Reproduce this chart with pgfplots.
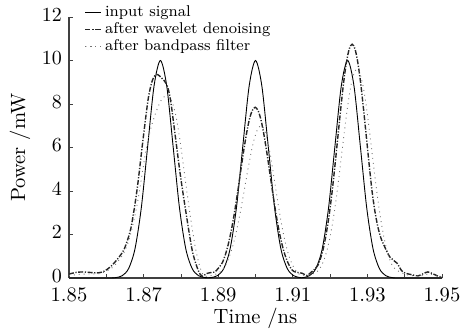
\documentclass[border=0pt]{standalone}
\usepackage{pgfplots}
\pgfplotsset{compat=1.18}
\begin{document}
\begin{tikzpicture}
\begin{axis}[
  scale only axis,
  width=186.5pt, height=130.5pt,
  xmin=1.85, xmax=1.95, ymin=0, ymax=12,
  axis x line*=bottom, axis y line*=left,
  axis line style={black!75, line width=0.6pt},
  xtick={1.85,1.87,1.89,1.91,1.93,1.95},
  xticklabels={1.85,1.87,1.89,1.91,1.93,1.95},
  minor xtick={1.86,1.88,1.90,1.92,1.94},
  ytick={0,2,4,6,8,10,12},
  tick align=inside,
  major tick length=2pt, minor tick length=2pt,
  tick style={black!75, line width=0.4pt},
  tick label style={font=\fontsize{10.3}{11}\selectfont},
  xticklabel style={yshift=-1.3pt},
  yticklabel style={yshift=1pt},
  xlabel={Time /ns}, ylabel={Power /mW},
  label style={font=\fontsize{10.3}{11}\selectfont},
  xlabel style={yshift=4pt},
  ylabel style={yshift=-1pt},
  legend cell align=left,
  legend image code/.code={\draw[#1] plot coordinates {(0pt,0pt) (3.8pt,0pt) (7.6pt,0pt)};},
  legend style={draw=none, fill=none, at={(0.041,1.055)}, anchor=north west,
    font=\fontsize{7.8}{8}\selectfont, inner sep=0pt, row sep=-1.2pt,
    nodes={inner sep=1.3pt}, /tikz/every odd column/.append style={column sep=0.6pt}},
]
% input signal
\addplot[black, line width=0.45pt, smooth] coordinates {
(1.8500,0)(1.8560,0)(1.8610,0)(1.8626,0.02)(1.8643,0.11)(1.8660,0.44)(1.8677,1.35)(1.8694,3.25)(1.8711,6.07)(1.8728,8.83)(1.8745,10)
(1.8762,8.83)(1.8779,6.07)(1.8796,3.25)(1.8813,1.35)(1.8830,0.44)(1.8847,0.11)(1.8864,0.02)(1.8873,0.01)
(1.8881,0.02)(1.8898,0.11)(1.8915,0.44)(1.8932,1.35)(1.8949,3.25)(1.8966,6.07)(1.8983,8.83)(1.9000,10)
(1.9017,8.83)(1.9034,6.07)(1.9051,3.25)(1.9068,1.35)(1.9085,0.44)(1.9102,0.11)(1.9119,0.02)(1.9124,0.01)
(1.9128,0.02)(1.9145,0.11)(1.9162,0.44)(1.9179,1.35)(1.9196,3.25)(1.9213,6.07)(1.9230,8.83)(1.9247,10)
(1.9264,8.83)(1.9281,6.07)(1.9298,3.25)(1.9315,1.35)(1.9332,0.44)(1.9349,0.11)(1.9366,0.02)(1.9380,0)(1.9450,0)(1.9500,0)
};
\addlegendentry{input signal}
% after wavelet denoising
\addplot[black!85, line width=0.7pt, dash pattern=on 2.5pt off 0.8pt on 0.6pt off 0.8pt, smooth] coordinates {
(1.8500,0.18)(1.8520,0.26)(1.8540,0.28)(1.8560,0.25)(1.8580,0.24)(1.8595,0.32)(1.8610,0.50)(1.8621,0.69)(1.8635,0.98)
(1.8647,1.29)(1.8657,1.75)(1.8666,2.3)(1.8676,3.3)(1.8685,4.4)(1.8698,6.3)(1.8712,8.2)(1.8722,9.0)(1.8730,9.3)(1.8738,9.35)
(1.8748,9.2)(1.8762,8.9)(1.8772,8.2)(1.8784,6.65)(1.8798,4.8)(1.8811,3.3)(1.8830,1.3)(1.8846,0.37)(1.8857,0.08)
(1.8868,0.2)(1.8880,0.25)(1.8890,0.27)(1.8903,0.5)
(1.8911,0.70)(1.8919,1.06)(1.8927,1.55)(1.8935,2.18)(1.8943,2.94)(1.8951,3.82)(1.8959,4.76)(1.8967,5.70)(1.8975,6.55)
(1.8983,7.25)(1.8991,7.69)(1.8999,7.85)(1.9007,7.69)(1.9015,7.25)(1.9023,6.55)(1.9031,5.70)(1.9039,4.76)(1.9047,3.82)
(1.9055,2.94)(1.9063,2.18)(1.9071,1.55)(1.9079,1.06)(1.9087,0.70)(1.9095,0.44)
(1.9103,0.3)(1.9115,0.25)(1.9125,0.22)(1.9138,0.12)(1.9148,0.25)(1.9158,0.4)
(1.91678,0.60)(1.91754,0.96)(1.9183,1.45)(1.91906,2.13)(1.91982,2.99)(1.92058,4.03)(1.92134,5.24)(1.9221,6.52)
(1.92286,7.80)(1.92362,8.98)(1.92438,9.92)(1.92514,10.54)(1.9259,10.75)(1.92666,10.54)(1.92742,9.92)(1.92818,8.98)
(1.92894,7.80)(1.9297,6.52)(1.93046,5.24)(1.93122,4.03)(1.93198,3.1)(1.93274,2.4)(1.9335,1.9)(1.9342,1.6)
(1.9360,0.97)(1.9379,0.69)(1.9395,0.28)(1.9422,0.14)(1.9436,0.1)(1.9450,0.2)(1.9462,0.28)(1.9475,0.2)(1.9490,0.08)(1.9500,0.05)
};
\addlegendentry{after wavelet denoising}
% after bandpass filter
\addplot[black!55, line width=0.45pt, dotted, smooth] coordinates {
(1.8500,0.12)(1.8540,0.18)(1.8580,0.2)(1.8605,0.35)(1.8621,0.55)(1.8635,0.85)(1.8647,1.15)(1.8660,1.7)(1.8672,2.5)
(1.8685,3.6)(1.8698,5.0)(1.8710,6.2)(1.8723,7.1)(1.8737,7.8)(1.8750,8.25)(1.8762,8.38)(1.8774,8.2)(1.8786,7.5)
(1.8797,6.4)(1.8808,5.0)(1.8819,3.6)(1.8830,2.3)(1.8841,1.2)(1.8852,0.45)(1.8862,0.1)(1.8875,0.1)(1.8890,0.15)(1.8905,0.28)
(1.89118,0.39)(1.89204,0.62)(1.8929,0.95)(1.89376,1.39)(1.89462,1.95)(1.89548,2.63)(1.89634,3.41)(1.8972,4.25)
(1.89806,5.08)(1.89892,5.85)(1.89978,6.46)(1.90064,6.86)(1.9015,7.0)(1.90226,6.86)(1.90302,6.46)(1.90378,5.85)
(1.90454,5.08)(1.9053,4.25)(1.90606,3.41)(1.90682,2.63)(1.90758,1.95)(1.90834,1.39)(1.9091,0.95)(1.90986,0.62)
(1.91062,0.39)(1.9115,0.2)(1.9130,0.12)(1.9145,0.15)(1.9158,0.22)
(1.9168,0.33)(1.9176,0.54)(1.9184,0.85)(1.9192,1.30)(1.9200,1.90)(1.9208,2.67)(1.9216,3.60)(1.9224,4.68)(1.9232,5.83)
(1.9240,6.97)(1.9248,8.02)(1.9256,8.86)(1.9264,9.41)(1.9272,9.6)(1.9280,9.41)(1.9288,8.86)(1.9296,8.02)(1.9304,6.97)
(1.9312,5.83)(1.9320,4.68)(1.9328,3.60)(1.9336,2.67)(1.9344,1.90)(1.9352,1.30)(1.9360,0.85)(1.9368,0.54)
(1.9380,0.35)(1.9400,0.18)(1.9425,0.1)(1.9450,0.12)(1.9465,0.2)(1.9480,0.12)(1.9500,0.05)
};
\addlegendentry{after bandpass filter}
\end{axis}
\path (-34.5pt,-27pt) rectangle (200pt,139pt);
\end{tikzpicture}
\end{document}
